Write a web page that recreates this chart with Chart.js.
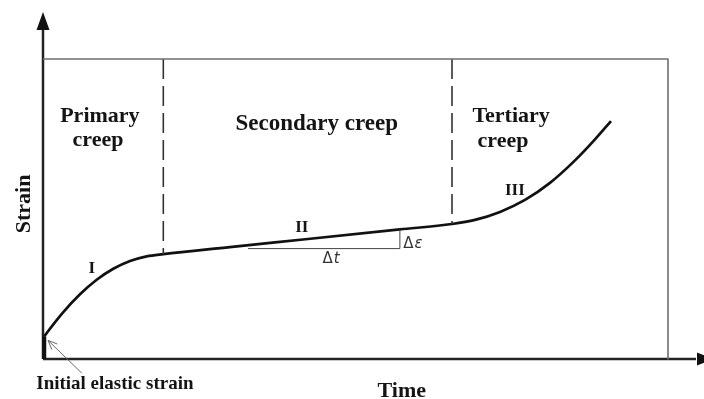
<!DOCTYPE html>
<html>
<head>
<meta charset="utf-8">
<script src="https://cdn.jsdelivr.net/npm/chart.js@4/dist/chart.umd.min.js"></script>
<style>
  html, body { margin: 0; padding: 0; background: #fff; }
  #wrap { width: 704px; height: 399px; }
</style>
</head>
<body>
<div id="wrap"><canvas id="c" width="704" height="399"></canvas></div>
<script>
// Creep curve: strain against time, arbitrary units.
// Instantaneous (elastic) strain at loading
const elasticTime   = [0.02, 0.02];
const elasticStrain = [0, 0.75];

// Creep curve through the three stages
const creepTime   = [0.02, 0.06, 0.325, 0.592, 0.859, 1.125, 1.392, 1.659, 1.925, 2.99, 4.20, 5.71, 6.544, 6.912, 7.312, 7.712, 8.112, 8.512, 8.832, 9.088];
const creepStrain = [0.75, 0.867, 1.563, 2.157, 2.640, 3.007, 3.267, 3.423, 3.497, 3.728, 3.991, 4.319, 4.500, 4.637, 4.903, 5.303, 5.870, 6.620, 7.320, 7.933];

// Boundaries between the primary / secondary / tertiary stages
const stageBoundaryTime   = [1.925, 6.544];
const stageBoundaryStrain = [3.497, 4.500];

// Frame of the plot region
const frameTime   = [0, 10, 10];
const frameStrain = [10, 10, 0];

// Slope triangle on the secondary stage (Δt, Δε)
const slopeTime   = [3.28, 5.71, 5.71];
const slopeStrain = [3.68, 3.68, 4.32];

// Axis extents
const timeMax = 10.576;
const strainMax = 11.567;

const pts = (xs, ys) => xs.map((x, i) => ({ x: x, y: ys[i] }));

// Text labels, placed in data units
const labels = [
  { text: 'Primary',   x: 0.91, y: 7.90, font: 'bold 22px "Liberation Serif"' },
  { text: 'creep',     x: 0.88, y: 7.10, font: 'bold 22px "Liberation Serif"' },
  { text: 'Secondary creep', x: 4.38, y: 7.63, font: 'bold 23px "Liberation Serif"' },
  { text: 'Tertiary',  x: 7.49, y: 7.90, font: 'bold 22px "Liberation Serif"' },
  { text: 'creep',     x: 7.36, y: 7.07, font: 'bold 22px "Liberation Serif"' },
  { text: 'I',         x: 0.78, y: 2.87, font: 'bold 17px "Liberation Serif"' },
  { text: 'II',        x: 4.14, y: 4.23, font: 'bold 17px "Liberation Serif"' },
  { text: 'III',       x: 7.55, y: 5.47, font: 'bold 17px "Liberation Serif"' },
  { text: 'Time',      x: 5.74, y: -1.27, font: 'bold 22px "Liberation Serif"' },
  { text: 'Initial elastic strain', x: 1.15, y: -1.00, font: 'bold 19px "Liberation Serif"' }
];
const deltaLabels = [
  { sym: 't', x: 4.61, y: 3.20 },
  { sym: 'ε', x: 5.92, y: 3.70 }
];

const decorations = {
  id: 'decorations',
  beforeDatasetsDraw(chart) {
    const { ctx } = chart;
    const xs = chart.scales.x, ys = chart.scales.y;
    const x0 = xs.getPixelForValue(0), y0 = ys.getPixelForValue(0);
    const xEnd = xs.getPixelForValue(timeMax), yEnd = ys.getPixelForValue(strainMax);
    ctx.save();
    ctx.strokeStyle = '#222';
    ctx.fillStyle = '#111';
    ctx.lineWidth = 2.5;
    // axes
    ctx.beginPath();
    ctx.moveTo(x0, y0); ctx.lineTo(x0, yEnd + 14);
    ctx.moveTo(x0, y0); ctx.lineTo(xEnd - 8, y0);
    ctx.stroke();
    // arrowheads
    ctx.beginPath();
    ctx.moveTo(x0, yEnd); ctx.lineTo(x0 - 6.5, yEnd + 18); ctx.lineTo(x0 + 6.5, yEnd + 18); ctx.closePath();
    ctx.fill();
    ctx.beginPath();
    ctx.moveTo(xEnd + 10, y0); ctx.lineTo(xEnd - 7, y0 - 6.5); ctx.lineTo(xEnd - 7, y0 + 6.5); ctx.closePath();
    ctx.fill();
    ctx.restore();
  },
  afterDatasetsDraw(chart) {
    const { ctx } = chart;
    const xs = chart.scales.x, ys = chart.scales.y;
    ctx.save();
    ctx.fillStyle = '#141414';
    ctx.textAlign = 'center';
    ctx.textBaseline = 'alphabetic';
    labels.forEach(l => {
      ctx.font = l.font;
      ctx.fillText(l.text, xs.getPixelForValue(l.x), ys.getPixelForValue(l.y));
    });
    // Δt and Δε
    deltaLabels.forEach(d => {
      const cx = xs.getPixelForValue(d.x), cy = ys.getPixelForValue(d.y);
      ctx.font = '15px "DejaVu Sans"';
      const wd = ctx.measureText('Δ').width;
      ctx.font = 'italic 15px "DejaVu Sans"';
      const ws = ctx.measureText(d.sym).width;
      const left = cx - (wd + ws + 1) / 2;
      ctx.textAlign = 'left';
      ctx.fillStyle = '#333';
      ctx.font = '15px "DejaVu Sans"';
      ctx.fillText('Δ', left, cy);
      ctx.font = 'italic 15px "DejaVu Sans"';
      ctx.fillText(d.sym, left + wd + 1, cy);
      ctx.textAlign = 'center';
      ctx.fillStyle = '#141414';
    });
    // axis title on the strain axis
    ctx.save();
    ctx.translate(xs.getPixelForValue(-0.30), ys.getPixelForValue(5.17));
    ctx.rotate(-Math.PI / 2);
    ctx.font = 'bold 22px "Liberation Serif"';
    ctx.textBaseline = 'middle';
    ctx.fillText('Strain', 0, 0);
    ctx.restore();
    // pointer to the elastic strain
    const ax = xs.getPixelForValue(0.62), ay = ys.getPixelForValue(-0.47);
    const bx = xs.getPixelForValue(0.08), by = ys.getPixelForValue(0.62);
    ctx.strokeStyle = '#666';
    ctx.lineWidth = 1;
    ctx.beginPath();
    ctx.moveTo(ax, ay); ctx.lineTo(bx, by);
    const ang = Math.atan2(by - ay, bx - ax);
    ctx.moveTo(bx, by); ctx.lineTo(bx - 10 * Math.cos(ang - 0.4), by - 10 * Math.sin(ang - 0.4));
    ctx.moveTo(bx, by); ctx.lineTo(bx - 10 * Math.cos(ang + 0.4), by - 10 * Math.sin(ang + 0.4));
    ctx.stroke();
    ctx.restore();
  }
};

new Chart(document.getElementById('c'), {
  type: 'line',
  data: {
    datasets: [
      { data: pts(frameTime, frameStrain), borderColor: '#6e6e6e', borderWidth: 1.6, tension: 0 },
      { data: pts([stageBoundaryTime[0], stageBoundaryTime[0]], [10, stageBoundaryStrain[0]]), borderColor: '#333', borderWidth: 1.6, borderDash: [20, 7], tension: 0 },
      { data: pts([stageBoundaryTime[1], stageBoundaryTime[1]], [10, stageBoundaryStrain[1]]), borderColor: '#333', borderWidth: 1.6, borderDash: [20, 7], tension: 0 },
      { data: pts(slopeTime, slopeStrain), borderColor: '#444', borderWidth: 1, tension: 0 },
      { data: pts(elasticTime, elasticStrain), borderColor: '#111', borderWidth: 4, tension: 0 },
      { data: pts(creepTime, creepStrain), borderColor: '#111', borderWidth: 2.7, cubicInterpolationMode: 'monotone' }
    ]
  },
  options: {
    responsive: false,
    animation: false,
    devicePixelRatio: 1,
    layout: { padding: { left: 43, right: 0, top: 12, bottom: 40 } },
    elements: { point: { radius: 0 }, line: { borderCapStyle: 'butt', borderJoinStyle: 'round', fill: false } },
    datasets: { line: { clip: false } },
    scales: {
      x: { type: 'linear', min: 0, max: timeMax, display: false },
      y: { type: 'linear', min: 0, max: strainMax, display: false }
    },
    plugins: { legend: { display: false }, tooltip: { enabled: false } }
  },
  plugins: [decorations]
});
</script>
</body>
</html>
